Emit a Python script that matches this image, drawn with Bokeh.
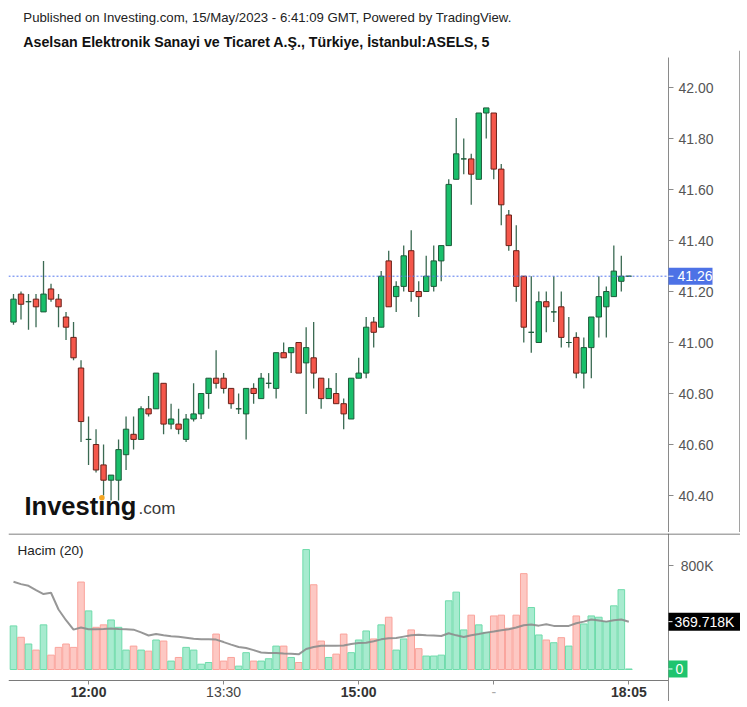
from bokeh.plotting import figure
from bokeh.models import (Range1d, FixedTicker, Span, Label, ColumnDataSource,
                          NumeralTickFormatter, LinearAxis)
from bokeh.layouts import column
from bokeh.embed import file_html
from bokeh.resources import INLINE
from bokeh.core.properties import value

FONT = "Liberation Sans"

# ---------------- data (5-minute bars, ASELS) ----------------
opens = [41.08, 41.19, 41.16, 41.17, 41.12, 41.21, 41.17, 41.10, 41.02, 40.90,
         40.62, 40.60, 40.52, 40.46, 40.46, 40.56, 40.64, 40.62, 40.74, 40.74,
         40.84, 40.68, 40.68, 40.62, 40.70, 40.72, 40.80, 40.86, 40.86, 40.82,
         40.74, 40.72, 40.82, 40.78, 40.84, 40.82, 40.96, 40.96, 41.00, 40.92,
         40.94, 40.86, 40.78, 40.80, 40.76, 40.70, 40.86, 40.88, 41.08, 41.06,
         41.32, 41.18, 41.22, 41.36, 41.20, 41.20, 41.22, 41.32, 41.38, 41.64,
         41.72, 41.72, 41.64, 41.90, 41.90, 41.68, 41.50, 41.36, 41.26, 41.04,
         41.00, 41.16, 41.12, 41.14, 41.00, 41.02, 40.88, 40.98, 41.10, 41.14,
         41.18, 41.24, 41.26]
highs = [41.19, 41.20, 41.19, 41.19, 41.32, 41.23, 41.19, 41.12, 41.08, 40.93,
         40.71, 40.66, 40.60, 40.48, 40.62, 40.71, 40.71, 40.75, 40.79, 40.88,
         40.84, 40.76, 40.74, 40.72, 40.84, 40.80, 40.86, 40.97, 40.88, 40.82,
         40.80, 40.82, 40.84, 40.88, 40.88, 40.96, 41.00, 40.98, 41.00, 41.06,
         41.08, 40.86, 40.86, 40.88, 40.78, 40.86, 40.94, 41.10, 41.10, 41.28,
         41.36, 41.24, 41.38, 41.44, 41.24, 41.34, 41.38, 41.38, 41.64, 41.88,
         41.80, 41.74, 41.90, 41.92, 41.90, 41.70, 41.52, 41.46, 41.26, 41.26,
         41.20, 41.20, 41.26, 41.20, 41.10, 41.04, 41.02, 41.10, 41.26, 41.22,
         41.38, 41.34, 41.26]
lows = [41.07, 41.09, 41.05, 41.06, 41.12, 41.16, 41.06, 41.01, 40.93, 40.61,
        40.52, 40.49, 40.40, 40.38, 40.38, 40.50, 40.58, 40.62, 40.71, 40.74,
        40.64, 40.66, 40.64, 40.61, 40.69, 40.70, 40.74, 40.82, 40.80, 40.74,
        40.72, 40.62, 40.76, 40.78, 40.82, 40.78, 40.94, 40.88, 40.88, 40.72,
        40.82, 40.74, 40.78, 40.76, 40.66, 40.70, 40.86, 40.86, 40.98, 41.06,
        41.14, 41.12, 41.20, 41.16, 41.10, 41.20, 41.20, 41.24, 41.38, 41.64,
        41.66, 41.54, 41.64, 41.80, 41.64, 41.46, 41.36, 41.16, 41.00, 40.96,
        41.00, 41.04, 41.08, 40.98, 40.98, 40.86, 40.82, 40.86, 41.02, 41.02,
        41.18, 41.20, 41.26]
closes = [41.17, 41.15, 41.16, 41.14, 41.19, 41.17, 41.14, 41.06, 40.94, 40.69,
          40.62, 40.50, 40.46, 40.48, 40.58, 40.66, 40.62, 40.74, 40.72, 40.88,
          40.68, 40.70, 40.66, 40.70, 40.72, 40.80, 40.86, 40.84, 40.82, 40.76,
          40.74, 40.82, 40.80, 40.86, 40.84, 40.96, 40.94, 40.98, 40.88, 40.98,
          40.88, 40.78, 40.82, 40.76, 40.72, 40.86, 40.88, 41.06, 41.04, 41.26,
          41.14, 41.22, 41.34, 41.20, 41.18, 41.26, 41.32, 41.38, 41.62, 41.74,
          41.72, 41.66, 41.90, 41.92, 41.68, 41.54, 41.38, 41.22, 41.06, 41.04,
          41.16, 41.14, 41.12, 41.02, 41.00, 40.88, 40.98, 41.10, 41.18, 41.20,
          41.28, 41.26, 41.26]
volumes_k = [337, 249, 197, 150, 345, 111, 171, 197, 171, 676,
             453, 326, 345, 383, 326, 150, 181, 150, 142, 228,
             220, 65, 93, 171, 150, 41, 54, 274, 65, 93,
             26, 130, 65, 65, 83, 181, 181, 93, 54, 927,
             655, 220, 93, 119, 274, 130, 228, 298, 236, 345,
             404, 150, 236, 306, 161, 104, 104, 111, 531, 598,
             306, 420, 345, 287, 414, 420, 319, 420, 741, 479,
             267, 228, 207, 246, 181, 414, 352, 414, 404, 370,
             492, 617, 4]
volume_ma_k = [678, 660, 647, 614, 583, 593, 464, 381, 308, 324,
               311, 311, 313, 316, 313, 311, 308, 287, 263, 274,
               264, 257, 254, 246, 238, 233, 233, 231, 212, 192,
               174, 166, 150, 132, 127, 127, 124, 122, 117, 158,
               174, 184, 184, 184, 186, 197, 205, 207, 218, 233,
               241, 243, 254, 264, 269, 264, 262, 259, 280, 264,
               251, 264, 274, 285, 293, 303, 311, 324, 342, 347,
               339, 350, 337, 337, 337, 357, 370, 386, 378, 370,
               381, 386, 369.718]

price_ticks = [40.4, 40.6, 40.8, 41.0, 41.2, 41.4, 41.6, 41.8, 42.0]
vol_ticks = [800000]
vol_tick_labels = ["800K"]
time_ticks = [11, 29, 47, 65, 83]
time_labels = ["12:00", "13:30", "15:00", "-", "18:05"]
time_bold = [True, False, True, False, True]
last_price_label = "41.26"
ma_value_label = "369.718K"
last_volume_label = "0"
volume_title = "Hacim (20)"
header_1 = "Published on Investing.com, 15/May/2023 - 6:41:09 GMT, Powered by TradingView."
header_2 = "Aselsan Elektronik Sanayi ve Ticaret A.Ş., Türkiye, İstanbul:ASELS, 5"

# ---------------- styles / layout constants ----------------
UP_FILL, UP_EDGE = "#19bf6b", "#1d5b3a"
DN_FILL, DN_EDGE = "#f5574b", "#6a2119"
WICK = "#3b6a53"
VUP_FILL, VUP_EDGE = "#a7ebcf", "#6fdbab"
VDN_FILL, VDN_EDGE = "#fdc8c3", "#faa39b"
AXIS = "#8a8a8a"
LBL = "#555555"

LEFT = 8            # page x of frame left
RIGHT = 740         # page x of frame right
AXIS_PX = 668       # page x of price/volume axis line
FW = RIGHT - LEFT
BAR_PX = 7.504      # pixels per bar
BAR1_PX = 13        # page x of first bar centre
XR0 = 1 + (LEFT - BAR1_PX) / BAR_PX
XR1 = 1 + (RIGHT - BAR1_PX) / BAR_PX
HEAD_H = 50
PH = 482            # price frame: page y 50 -> 532
VTOP = HEAD_H + PH + 1   # volume frame top (after 1px border)
VH = 168            # volume frame: page y 533 -> 701 (includes time-label row)
XAXIS_PY = 680      # page y of the time axis line
PX_PER_UNIT_P = 255.0
PY1 = 42.0 + (87 - HEAD_H) / PX_PER_UNIT_P
PY0 = PY1 - PH / PX_PER_UNIT_P
VOL_PER_PX = 7729.0
VOL0_PY = 669
VY1 = (VOL0_PY - VTOP) * VOL_PER_PX
VY0 = VY1 - VH * VOL_PER_PX

def px_x(px):
    return XR0 + (px - LEFT) / BAR_PX

def py_price(py):
    return PY1 - (py - HEAD_H) / PX_PER_UNIT_P

def py_vol(py):
    return VY1 - (py - VTOP) * VOL_PER_PX

X_AX = px_x(AXIS_PX)

N = len(opens)
xs = list(range(1, N + 1))
up = [c >= o for o, c in zip(opens, closes)]
src = ColumnDataSource(dict(
    x=xs, high=highs, low=lows,
    top=[max(o, c) for o, c in zip(opens, closes)],
    bottom=[min(o, c) for o, c in zip(opens, closes)],
    fill=[UP_FILL if u else DN_FILL for u in up],
    edge=[UP_EDGE if u else DN_EDGE for u in up],
    vol=[v * 1000 for v in volumes_k],
    vfill=[VUP_FILL if u else VDN_FILL for u in up],
    vedge=[VUP_EDGE if u else VDN_EDGE for u in up],
    ma=[m * 1000 for m in volume_ma_k],
))

xr = Range1d(XR0, XR1)

def style_value_axis(a):
    a.axis_line_color = AXIS
    a.major_tick_line_color = AXIS
    a.major_tick_in = 5
    a.major_tick_out = 0
    a.minor_tick_line_color = None
    a.major_label_text_font = FONT
    a.major_label_text_font_size = "14px"
    a.major_label_text_color = LBL
    a.major_label_standoff = -45

# ---------------- header ----------------
h = figure(width=RIGHT, height=HEAD_H, x_range=Range1d(0, RIGHT), y_range=Range1d(0, HEAD_H),
           output_backend="svg", toolbar_location=None, min_border=0,
           x_axis_location=None, y_axis_location=None)
h.grid.visible = False
h.outline_line_color = None
h.text(x=[15], y=[HEAD_H - 17], text=[header_1], text_font=value(FONT), text_font_size="13.2px",
       text_baseline="middle", text_color="#222222")
h.text(x=[15], y=[HEAD_H - 41], text=[header_2], text_font=value(FONT), text_font_size="14.2px",
       text_font_style="bold", text_baseline="middle", text_color="#111111")

# ---------------- price pane ----------------
p = figure(frame_width=FW, frame_height=PH, x_range=xr, y_range=Range1d(PY0, PY1),
           output_backend="svg", toolbar_location=None, x_axis_location=None,
           y_axis_location=None, min_border_left=LEFT, min_border_right=0,
           min_border_top=0, min_border_bottom=0)
p.grid.visible = False
p.outline_line_color = None
pax = LinearAxis(fixed_location=X_AX, ticker=FixedTicker(ticks=price_ticks),
                 formatter=NumeralTickFormatter(format="0.00"),
                 bounds=(PY0 - 1.0, py_price(57)))
style_value_axis(pax)
p.add_layout(pax, "left")

p.segment(x0="x", y0="low", x1="x", y1="high", source=src, line_color=WICK, line_width=1.3)
p.vbar(x="x", width=0.72, top="top", bottom="bottom", fill_color="fill",
       line_color="edge", line_width=1, source=src)

# last-price line and tag
p.segment(x0=[XR0], x1=[X_AX], y0=[closes[-1]], y1=[closes[-1]], line_color="#5577ee",
          line_dash="2 2", line_width=1)
p.rect(x=[px_x(690)], y=[closes[-1]], width=44, height=17, width_units="screen",
       height_units="screen", fill_color="#4d72e6", line_color=None, level="overlay")
p.segment(x0=[X_AX], x1=[px_x(673)], y0=[closes[-1]], y1=[closes[-1]], line_color="white",
          line_width=1, level="overlay")
p.text(x=[px_x(677)], y=[closes[-1]], text=[last_price_label], text_font=value(FONT),
       text_font_size="14px", text_color="white", text_baseline="middle", level="overlay")

# right border of the price pane
p.add_layout(Span(location=px_x(739.5), dimension="height", line_color="#444444", line_width=1))

# logo
p.add_layout(Label(x=px_x(24), y=py_price(505), text="Investing", text_font=FONT,
                   text_font_size="25.5px", text_font_style="bold", text_color="#111111",
                   text_align="left", text_baseline="middle"))
p.add_layout(Label(x=px_x(138), y=py_price(508), text=".com", text_font=FONT,
                   text_font_size="17px", text_color="#3a3a3a",
                   text_align="left", text_baseline="middle"))
p.scatter(x=[px_x(101.4)], y=[py_price(497.3)], size=5.5, marker="circle",
          fill_color="#f5a623", line_color=None, level="overlay")

# ---------------- volume pane ----------------
v = figure(frame_width=FW, frame_height=VH, x_range=xr, y_range=Range1d(VY0, VY1),
           output_backend="svg", toolbar_location=None, y_axis_location=None,
           min_border_left=LEFT, min_border_right=0, min_border_top=1, min_border_bottom=0)
v.grid.visible = False
v.outline_line_color = None
vax = LinearAxis(fixed_location=X_AX, ticker=FixedTicker(ticks=vol_ticks),
                 major_label_overrides={t: s for t, s in zip(vol_ticks, vol_tick_labels)},
                 bounds=(VY0, VY1))
style_value_axis(vax)
v.add_layout(vax, "left")

# time axis (line + ticks) at the bottom of the volume bars
vx = v.xaxis[0]
vx.fixed_location = py_vol(XAXIS_PY)
vx.ticker = FixedTicker(ticks=time_ticks)
vx.major_label_overrides = {t: "" for t in time_ticks}
vx.major_label_text_font_size = "0px"
vx.major_label_standoff = 0
vx.bounds = (XR0, X_AX)
vx.axis_line_color = "#7a7a7a"
vx.major_tick_line_color = AXIS
vx.major_tick_out = 4
vx.major_tick_in = 0
vx.minor_tick_line_color = None

# time labels
lab_y = py_vol(691)
b_x = [t for t, b in zip(time_ticks, time_bold) if b]
b_t = [s for s, b in zip(time_labels, time_bold) if b]
n_x = [t for t, b in zip(time_ticks, time_bold) if not b]
n_t = [s for s, b in zip(time_labels, time_bold) if not b]
n_c = ["#aaaaaa" if s == "-" else "#444444" for s in n_t]
v.text(x=b_x, y=[lab_y] * len(b_x), text=b_t, text_font=value(FONT), text_font_size="14px",
       text_font_style="bold", text_color="#333333", text_align="center",
       text_baseline="middle")
v.text(x=n_x, y=[lab_y] * len(n_x), text=n_t, text_font=value(FONT), text_font_size="14px",
       text_color=n_c, text_align="center", text_baseline="middle")

v.vbar(x="x", width=0.88, top="vol", bottom=0, fill_color="vfill", line_color="vedge",
       line_width=1, source=src)
v.line(x="x", y="ma", source=src, line_color="#8c8c8c", line_width=2, line_alpha=0.9)

# pane separator
v.add_layout(Span(location=py_vol(VTOP + 0.5), dimension="width", line_color="#555555",
                  line_width=1))

v.add_layout(Label(x=px_x(17), y=py_vol(550), text=volume_title, text_font=FONT,
                   text_font_size="13.5px", text_color="#222222", text_baseline="middle"))

# value tags on the volume axis
ma_last = volume_ma_k[-1] * 1000
vol_last = volumes_k[-1] * 1000
v.rect(x=[px_x(705)], y=[ma_last], width=74, height=18, width_units="screen",
       height_units="screen", fill_color="#000000", line_color=None, level="overlay")
v.segment(x0=[X_AX], x1=[px_x(672)], y0=[ma_last], y1=[ma_last], line_color="white",
          level="overlay")
v.text(x=[px_x(674)], y=[ma_last], text=[ma_value_label], text_font=value(FONT),
       text_font_size="14px", text_color="white", text_baseline="middle", level="overlay")
v.rect(x=[px_x(677.5)], y=[vol_last], width=19, height=17, width_units="screen",
       height_units="screen", fill_color="#1fc46e", line_color=None, level="overlay")
v.segment(x0=[X_AX], x1=[px_x(672)], y0=[vol_last], y1=[vol_last], line_color="white",
          level="overlay")
v.text(x=[px_x(675)], y=[vol_last], text=[last_volume_label], text_font=value(FONT),
       text_font_size="14px", text_color="white", text_baseline="middle", level="overlay")

layout = column(h, p, v, spacing=0)
open("out.html", "w").write(file_html(layout, INLINE))
